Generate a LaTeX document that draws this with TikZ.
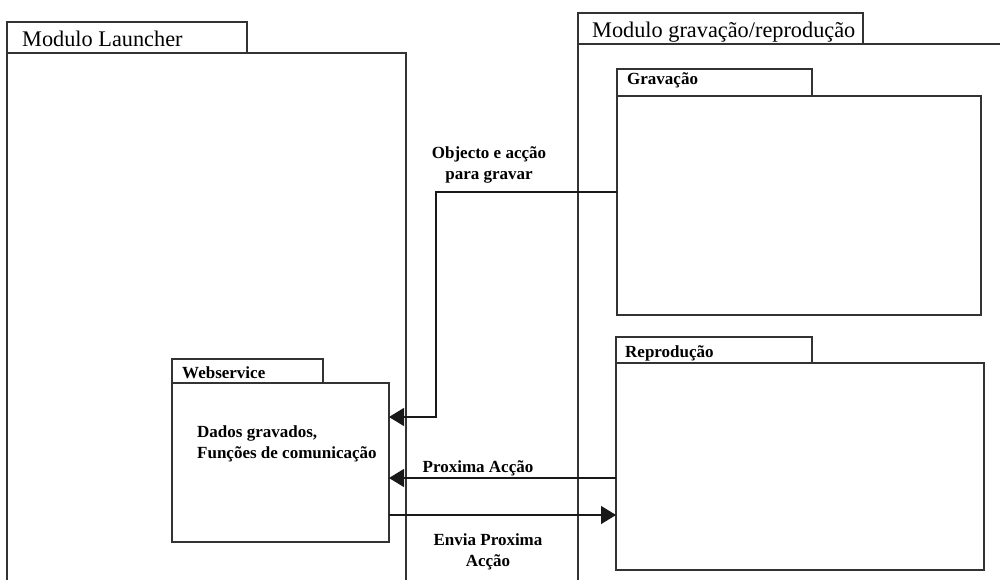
\documentclass[tikz,border=0pt]{standalone}
\usepackage{fontspec}
\setmainfont{Liberation Serif}
\usetikzlibrary{arrows.meta}
\begin{document}
\begin{tikzpicture}[x=1pt,y=-1pt,
  pkg/.style={draw=black!80, line width=1.3pt, anchor=north west, inner sep=0pt, outer sep=0pt},
  ttl/.style={anchor=base west, inner sep=0pt, font=\fontsize{22.3}{25}\selectfont},
  lbl/.style={inner sep=0pt, font=\fontsize{17}{20.5}\selectfont\bfseries},
  flow/.style={draw=black!90, line width=1.3pt, -{Triangle[length=15pt,width=18pt]}}]
  \useasboundingbox (0,0) rectangle (1000,580);
  \fill[white] (0,0) rectangle (1000,580);
  \clip (0,0) rectangle (1000,580);

  % Launcher module
  \node[pkg, minimum width=240pt, minimum height=31pt] (lTab) at (7,22) {};
  \node[pkg, minimum width=399pt, minimum height=600pt] (lBody) at (7,53) {};
  \node[ttl] (lTitle) at (22,47) {Modulo Launcher};

  % Recording / playback module
  \node[pkg, minimum width=285pt, minimum height=31pt] (rTab) at (578,13) {};
  \node[pkg, minimum width=500pt, minimum height=600pt] (rBody) at (578,44) {};
  \node[ttl] (rTitle) at (592,38) {Modulo gravação/reprodução};

  % Gravação
  \node[pkg, minimum width=195pt, minimum height=27pt] (gTab) at (617,69) {};
  \node[pkg, minimum width=364pt, minimum height=219pt] (grav) at (617,96) {};
  \node[lbl, anchor=base west] (gTitle) at (627,85) {Gravação};

  % Reprodução
  \node[pkg, minimum width=196pt, minimum height=26pt] (pTab) at (616,337) {};
  \node[pkg, minimum width=368pt, minimum height=207pt] (repr) at (616,363) {};
  \node[lbl, anchor=base west] (pTitle) at (625,357) {Reprodução};

  % Webservice
  \node[pkg, minimum width=151pt, minimum height=24pt] (wTab) at (172,359) {};
  \node[pkg, minimum width=217pt, minimum height=159pt] (ws) at (172,383) {};
  \node[lbl, anchor=base west] (wTitle) at (182,378) {Webservice};
  \node[lbl, anchor=base west, align=left] (wText) at (197,458) {Dados gravados,\\Funções de comunicação};

  % Connectors
  \coordinate (y1) at (0,192);
  \coordinate (bend1) at (436,192);
  \coordinate (bend2) at (436,417);
  \coordinate (y2) at (0,478);
  \coordinate (y3) at (0,515);
  \draw[flow] (grav.west |- y1) -- (bend1) -- (bend2) -- (ws.east |- bend2);
  \draw[flow] (repr.west |- y2) -- (ws.east |- y2);
  \draw[flow] (ws.east |- y3) -- (repr.west |- y3);

  % Connector labels (base anchor sits on the last line)
  \node[lbl, anchor=base, align=center] (l1) at (489,179) {Objecto e acção\\para gravar};
  \node[lbl, anchor=base] (l2) at (478,472) {Proxima Acção};
  \node[lbl, anchor=base, align=center] (l3) at (488,566) {Envia Proxima\\Acção};
\end{tikzpicture}
\end{document}
